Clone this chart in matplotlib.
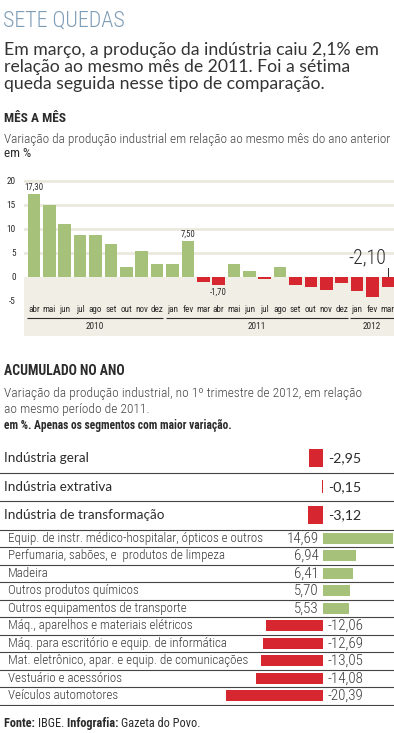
import matplotlib
matplotlib.use("Agg")
import matplotlib.pyplot as plt
from matplotlib import font_manager as fm

W, H = 394, 733
GREEN, RED, BEIGE, DARK = "#a6c27a", "#d6262f", "#f1eee5", "#2b2b2b"

# --- data: mês a mês ---
months = ["abr", "mai", "jun", "jul", "ago", "set", "out", "nov", "dez",
          "jan", "fev", "mar", "abr", "mai", "jun", "jul", "ago", "set", "out", "nov", "dez",
          "jan", "fev", "mar"]
years = ["2010", "2011", "2012"]
year_idx = [0] * 9 + [1] * 12 + [2] * 3
monthly = [17.30, 15.0, 11.0, 8.8, 8.8, 6.9, 2.0, 5.5, 2.6,
           2.7, 7.50, -1.1, -1.70, 2.6, 1.2, -0.5, 2.1, -1.7, -2.1, -2.8, -1.3,
           -2.9, -4.1, -2.10]
yticks = [20, 15, 10, 5, 0, -5]
labeled = [0, 10, 12]          # bars with small value labels

# --- data: acumulado no ano ---
summary_names = ["Indústria geral", "Indústria extrativa", "Indústria de transformação"]
summary_vals = [-2.95, -0.15, -3.12]
segment_names = ["Equip. de instr. médico-hospitalar, ópticos e outros",
                 "Perfumaria, sabões, e  produtos de limpeza",
                 "Madeira",
                 "Outros produtos químicos",
                 "Outros equipamentos de transporte",
                 "Máq., aparelhos e materiais elétricos",
                 "Máq. para escritório e equip. de informática",
                 "Mat. eletrônico, apar. e equip. de comunicações",
                 "Vestuário e acessórios",
                 "Veículos automotores"]
segment_vals = [14.69, 6.94, 6.41, 5.70, 5.53, -12.06, -12.69, -13.05, -14.08, -20.39]


def narrow_font():
    names = {f.name for f in fm.fontManager.ttflist}
    for n in ["Roboto Condensed", "Liberation Sans Narrow", "Open Sans Condensed",
              "Noto Sans Condensed"]:
        if n in names:
            return dict(family=n)
    for n in ["DejaVu Sans", "Noto Sans", "Open Sans", "Roboto"]:
        for f in fm.fontManager.ttflist:
            if f.name == n and "condensed" in str(f.stretch).lower():
                return dict(family=n, stretch="condensed")
    return dict(family="Roboto")


NARB = narrow_font()                  # bold condensed
NAR = dict(NARB, weight="light")      # light condensed
ROUND = dict(family="Lato")


def br(v):
    return f"{v:.2f}".replace(".", ",")


def fx(x):
    return x / W


def fy(y):
    return 1 - y / H


fig = plt.figure(figsize=(W / 100, H / 100), dpi=100)
fig.patch.set_facecolor("white")
R = fig.canvas.get_renderer()


def size_for(s, width, **kw):
    t = fig.text(0, 0, s, fontsize=10, **kw)
    w = t.get_window_extent(R).width
    t.remove()
    return 10 * width / w


# header texts
fig.text(fx(3), fy(26), "SETE QUEDAS", **NAR, fontsize=size_for("SETE QUEDAS", 122, **NAR),
         color="#7d9cb6", va="baseline")
sub = ["Em março, a produção da indústria caiu 2,1% em",
       "relação ao mesmo mês de 2011. Foi a sétima",
       "queda seguida nesse tipo de comparação."]
fs = size_for(sub[0], 374, **ROUND)
for k, line in enumerate(sub):
    fig.text(fx(4), fy(55 + 17 * k), line, **ROUND, fontsize=fs, color="#333333",
             va="baseline")
fig.text(fx(4), fy(122), "MÊS A MÊS", **NARB, weight="bold", color=DARK, va="baseline",
         fontsize=size_for("MÊS A MÊS", 62, **NARB, weight="bold"))
s = "Variação da produção industrial em relação ao mesmo mês do ano anterior"
fig.text(fx(4), fy(143), s, **NAR, fontsize=size_for(s, 388, **NAR), color="#444444",
         va="baseline")
fig.text(fx(4), fy(157), "em %", **NARB, fontsize=size_for("em %", 27, **NARB), color=DARK,
         va="baseline")

# --- bar chart ---
ax = fig.add_axes([fx(24), fy(336), fx(370), (336 - 175) / H])
ax.set_xlim(-0.65, 23.4)
ax.set_ylim(-12.3, 21.25)
ax.axhspan(-12.3, 0, color=BEIGE, zorder=0, lw=0)
for t in yticks:
    if t > 0:
        ax.axhline(t, color="#ebe8de", lw=2, zorder=0.5)
x = list(range(len(monthly)))
ax.bar(x, monthly, width=0.82, color=[GREEN if v >= 0 else RED for v in monthly], zorder=2)
for sp in ax.spines.values():
    sp.set_visible(False)
ax.set_xticks([])
ax.set_yticks(yticks)
ax.set_yticklabels([str(t) for t in yticks], **NARB, fontsize=size_for("20", 9, **NARB),
                   color=DARK)
ax.tick_params(axis="y", length=0, pad=6)

fs_small = size_for("17,30", 19, **NARB)
for i in labeled:
    v = monthly[i]
    ax.text(i, v + (0.5 if v > 0 else -0.6), br(v), ha="center",
            va="bottom" if v > 0 else "top", **NARB, fontsize=fs_small, color=DARK)
last = len(monthly) - 1
ax.plot([last, last], [0.1, 1.9], color=DARK, lw=0.7)
ax.text(last - 0.1, 2.1, br(monthly[last]), ha="right", va="bottom", **NAR,
        fontsize=size_for(br(monthly[last]), 38, **NAR), color=DARK)

fs_m = size_for("ago", 13.5, **NARB)
for i, m in enumerate(months):
    ax.text(i, -6.7, m, ha="center", va="center", **NARB, fontsize=fs_m, color=DARK)
fs_y = size_for("2010", 18, **NARB)
for k, yr in enumerate(years):
    idx = [i for i, y in enumerate(year_idx) if y == k]
    a, b = idx[0] - 0.45, idx[-1] + 0.4
    ax.plot([a, b], [-8.5, -8.5], color=DARK, lw=0.8, solid_capstyle="butt")
    ax.text((a + b) / 2, -10.4, yr, ha="center", va="center", **NARB, fontsize=fs_y,
            color=DARK)

# --- acumulado no ano ---
fig.text(fx(4), fy(375), "ACUMULADO NO ANO", **NARB, weight="bold", color=DARK, va="baseline",
         fontsize=size_for("ACUMULADO NO ANO", 121, **NARB, weight="bold"))
acc = ["Variação da produção industrial, no 1º trimestre de 2012, em relação",
       "ao mesmo período de 2011."]
fs = size_for(acc[0], 358, **NAR)
for k, line in enumerate(acc):
    fig.text(fx(4), fy(397 + 16 * k), line, **NAR, fontsize=fs, color="#444444",
             va="baseline")
s = "em %. Apenas os segmentos com maior variação."
fig.text(fx(4), fy(429), s, **NARB, weight="bold", color=DARK, va="baseline",
         fontsize=size_for(s, 229, **NARB, weight="bold"))

ax2 = fig.add_axes([0, fy(706), 1, (706 - 444) / H])
ax2.set_xlim(-68.0, 14.95)
ax2.set_ylim(706, 444)
ax2.axis("off")

fs_big = size_for(summary_names[2], 160, **ROUND)
fs_bigv = size_for("-2,95", 33, **ROUND)
fs_seg = size_for(segment_names[0], 256, **NAR)
fs_segv = size_for("14,69", 32, **NAR)
big_h, small_h = 28.5, 17.5
top = 444
for name, v in zip(summary_names, summary_vals):
    c = top + big_h / 2
    ax2.barh(c, v, height=18 if abs(v) > 0.5 else 13, color=RED, lw=0)
    ax2.text(-67.2, c, name, ha="left", va="center", **ROUND, fontsize=fs_big, color=DARK)
    ax2.text(1.0, c, br(v), ha="left", va="center", **ROUND, fontsize=fs_bigv, color=DARK)
    top += big_h
    ax2.plot([-68, 14.95], [top, top], color="#444444", lw=0.8)
for name, v in zip(segment_names, segment_vals):
    c = top + small_h / 2
    ax2.barh(c, v, height=11, color=GREEN if v > 0 else RED, lw=0)
    ax2.text(-66.3, c, name, ha="left", va="center", **NAR, fontsize=fs_seg,
             color="#3a3a3a")
    if v > 0:
        ax2.text(-0.9, c, br(v), ha="right", va="center", **NAR, fontsize=fs_segv,
                 color="#3a3a3a")
    else:
        ax2.text(1.0, c, br(v), ha="left", va="center", **NAR, fontsize=fs_segv,
                 color="#3a3a3a")
    top += small_h
    ax2.plot([-68, 14.95], [top, top], color="#444444", lw=0.8)

# footer: bold / regular pieces chained
pieces = [("Fonte: ", "bold"), ("IBGE. ", "normal"), ("Infografia: ", "bold"),
          ("Gazeta do Povo.", "normal")]
fs_f = size_for("Fonte: IBGE. Infografia: Gazeta do Povo.", 193, **NARB)
xpos = fx(4)
for txt, wt in pieces:
    t = fig.text(xpos, fy(727), txt, **NARB, fontsize=fs_f, weight=wt, color=DARK,
                 va="baseline")
    xpos += t.get_window_extent(R).width / W

fig.savefig("out.png", dpi=100)
